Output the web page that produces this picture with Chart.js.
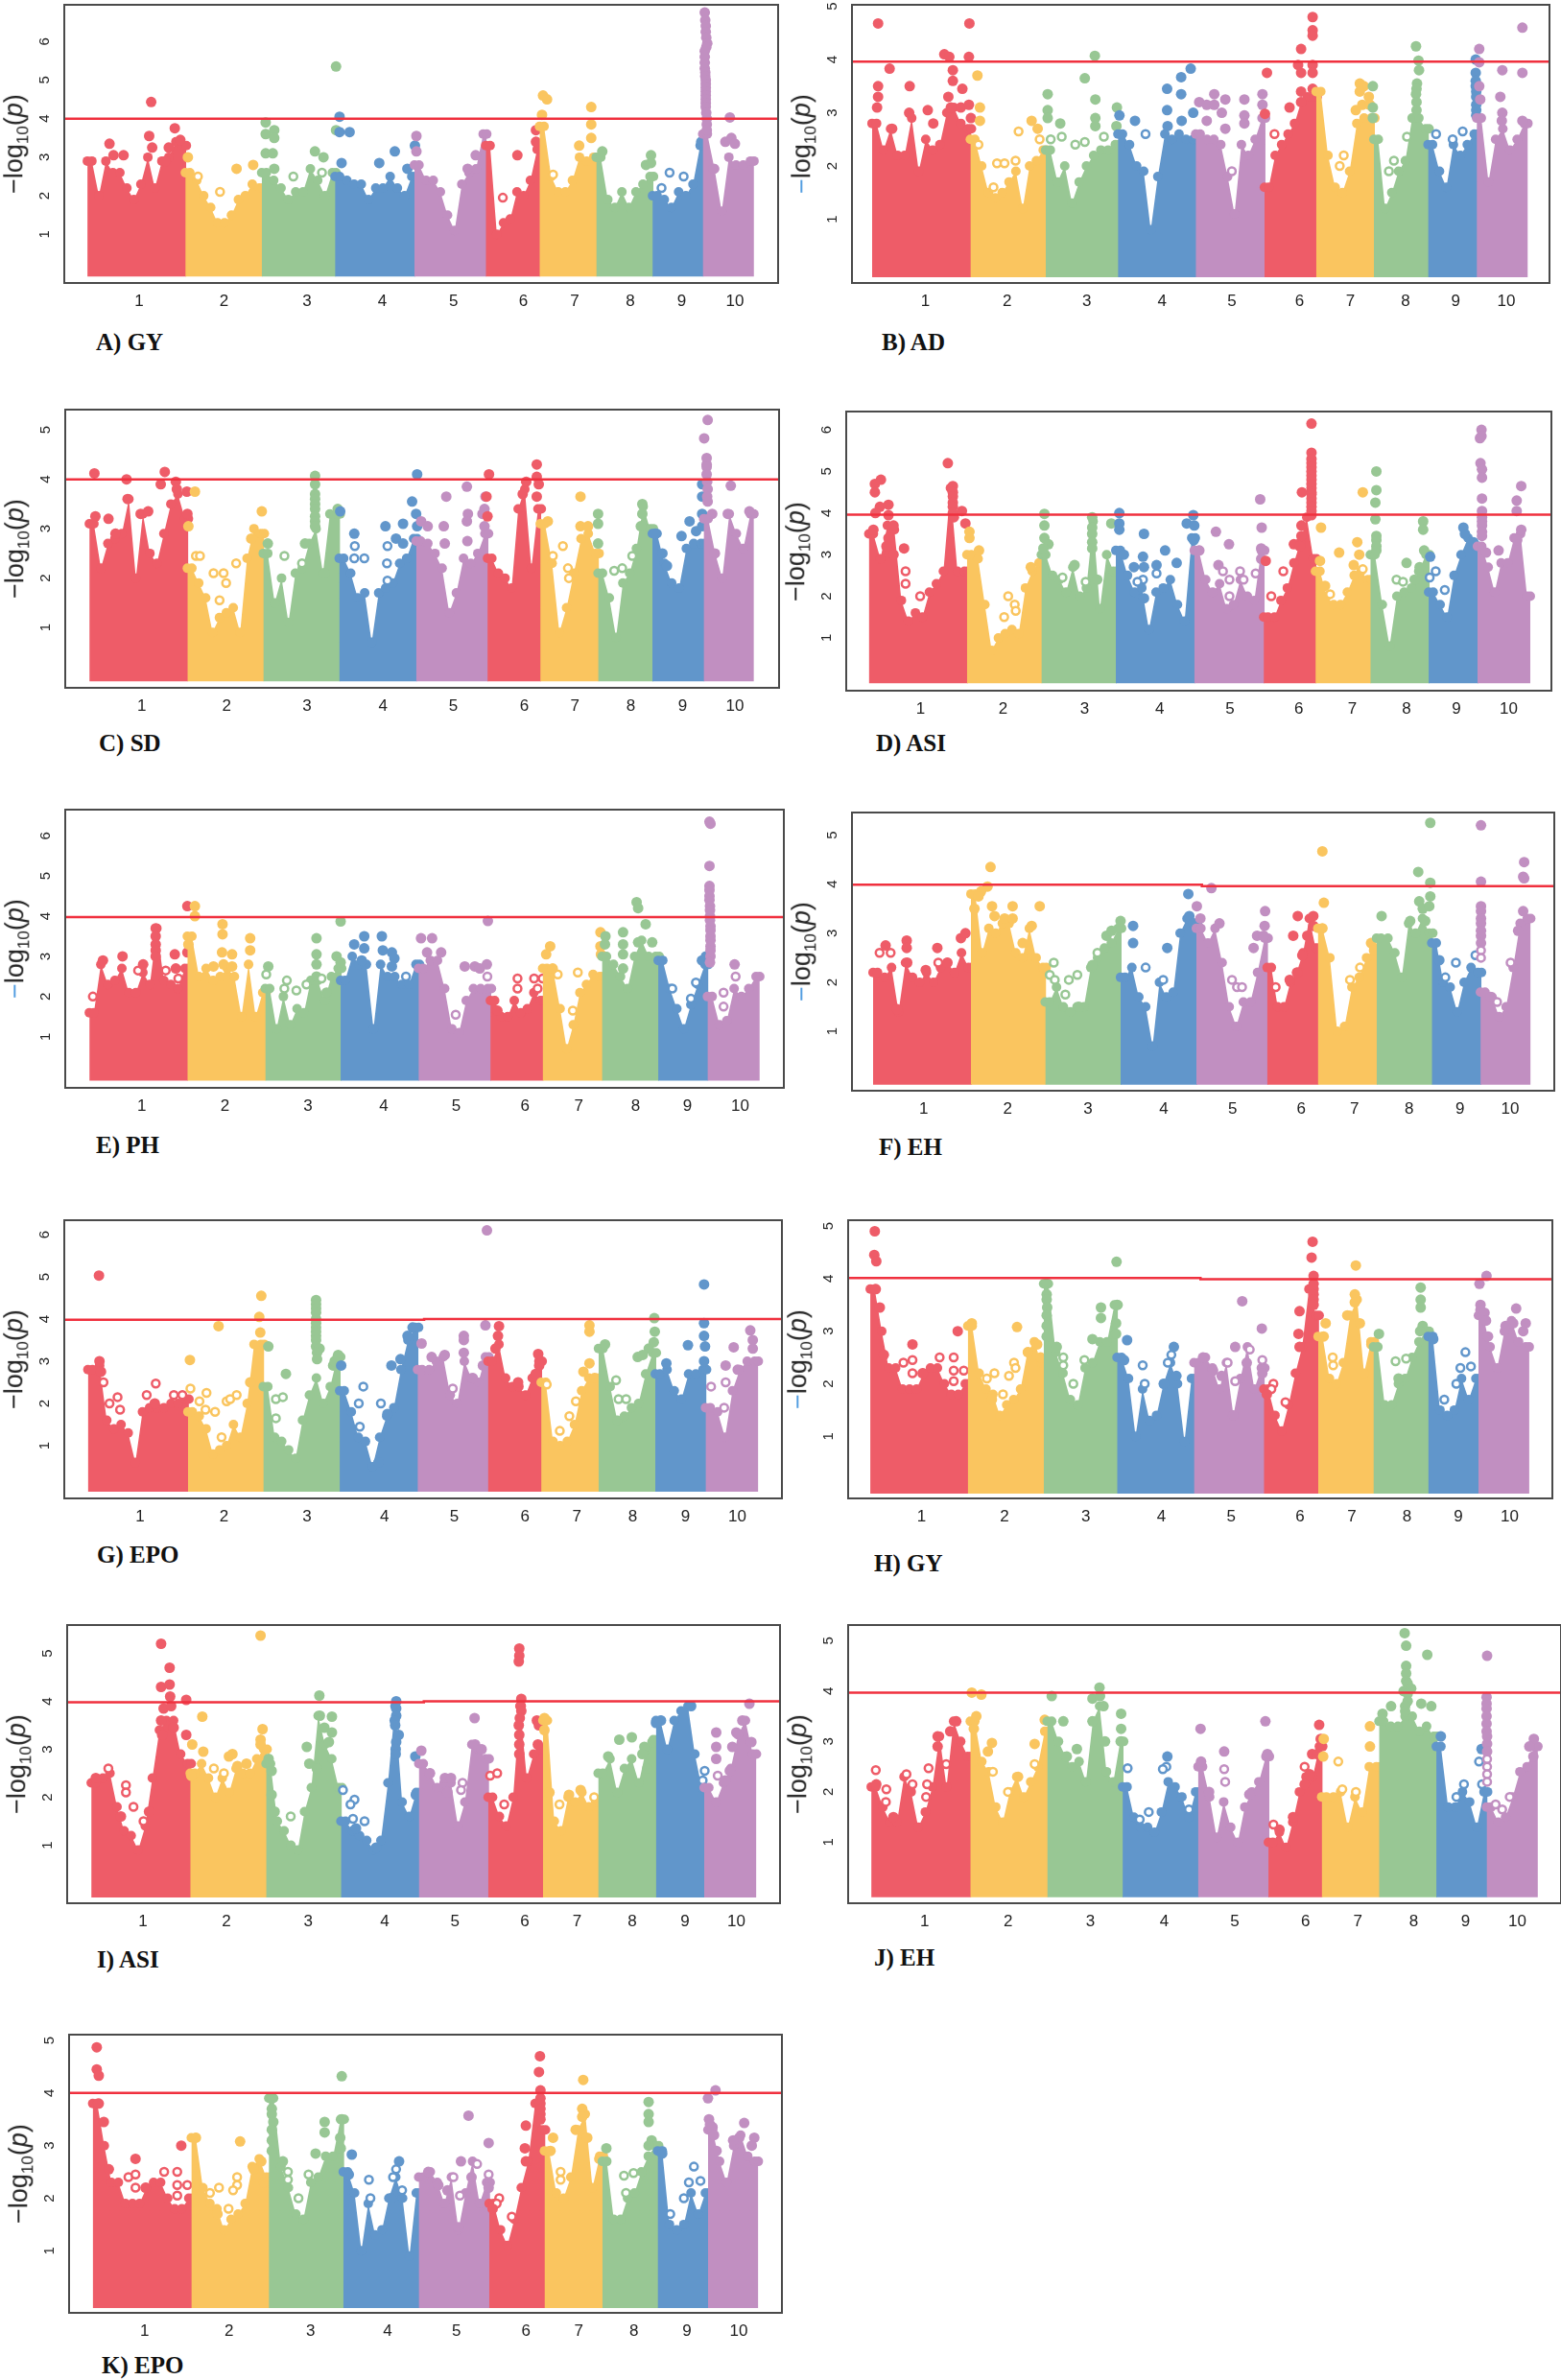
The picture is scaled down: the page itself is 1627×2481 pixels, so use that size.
<!DOCTYPE html>
<html>
<head>
<meta charset="utf-8">
<title>Manhattan plots</title>
<script src="https://cdn.jsdelivr.net/npm/chart.js@4/dist/chart.umd.min.js"></script>
<style>
html, body { margin: 0; padding: 0; background: #fff; }
body { position: relative; width: 1627px; height: 2481px; overflow: hidden; }
canvas { position: absolute; }
.ytitle { position: absolute; transform: translate(-50%, -50%) rotate(-90deg); font: 27px "Liberation Sans", Arial, sans-serif; color: #222; white-space: nowrap; }
.ytitle sub { font-size: 17px; }
.plabel { position: absolute; transform: translateY(-50%); font: bold 25px "Liberation Serif", serif; color: #111; white-space: nowrap; }
</style>
</head>
<body>
<script>
const chrLabels = ['1', '2', '3', '4', '5', '6', '7', '8', '9', '10'];
const chrColors = ['#EE5C68', '#FAC55F', '#98C794', '#6196CB', '#C18FC1', '#EE5C68', '#FAC55F', '#98C794', '#6196CB', '#C18FC1'];

// A) GY
const A_ends = [175, 370, 522, 668, 826, 968, 1075, 1188, 1300, 1400, 1500];
const A_ticks = [276, 445, 610, 760, 902, 1041, 1143, 1254, 1356, 1462];
const A_line = [[127, 4.0], [1548, 4.0]];
const A_tops = [
  [2.9, 2.0, 2.9, 2.6, 2.6, 2.2, 1.9, 2.3, 3.0, 2.2, 2.9, 3.0, 3.4, 3.3],
  [2.6, 2.4, 2.0, 1.7, 1.3, 1.3, 1.5, 1.9, 2.0, 2.3, 2.2],
  [2.6, 2.4, 2.2, 1.9, 2.1, 2.1, 2.7, 2.4, 2.0, 2.6],
  [2.5, 2.4, 2.3, 2.3, 1.9, 2.2, 2.2, 2.5, 2.2, 2.0, 2.5],
  [2.8, 2.4, 2.4, 2.1, 1.5, 1.1, 2.3, 2.6, 2.7, 3.6],
  [3.3, 1.0, 1.3, 1.4, 2.1, 2.0, 2.4, 3.2],
  [3.8, 2.5, 2.1, 2.1, 2.4, 3.0, 2.9, 3.0],
  [3.0, 1.9, 1.7, 2.1, 1.7, 2.1, 2.3, 2.5],
  [2.0, 1.9, 1.7, 2.1, 2.0, 2.3, 3.3],
  [3.6, 2.7, 1.6, 3.0, 2.8, 2.8, 2.9]
];
const A_hits = [
  [[300, 4.43], [296, 3.55], [217, 3.35], [245, 3.05], [225, 3.05], [347, 3.75], [335, 3.25], [358, 3.45], [302, 3.25], [328, 2.9]],
  [[373, 3.0], [393, 2.5], [470, 2.7], [503, 2.8], [437, 2.1]],
  [[528, 3.9], [528, 3.6], [545, 3.7], [545, 3.5], [528, 3.1], [542, 3.1], [545, 2.7], [583, 2.5], [626, 3.15], [643, 3.0], [640, 2.6], [668, 5.35], [668, 3.7]],
  [[675, 4.05], [675, 3.65], [695, 3.65], [679, 2.85], [754, 2.85], [785, 3.15], [810, 2.7], [825, 3.3]],
  [[828, 3.55], [828, 3.15], [946, 3.05], [930, 2.7]],
  [[1029, 3.05], [1000, 1.95], [1066, 3.7], [1066, 3.4]],
  [[1080, 4.6], [1088, 4.5], [1078, 4.1], [1176, 4.3], [1176, 3.85], [1176, 3.5], [1152, 3.3], [1100, 2.55]],
  [[1198, 3.15], [1285, 2.8], [1295, 3.05], [1295, 2.85]],
  [[1332, 2.6], [1360, 2.5], [1316, 2.2], [1395, 3.4]],
  [[1402, 6.75], [1403, 6.55], [1404, 6.4], [1404, 6.25], [1405, 6.1], [1407, 5.95], [1405, 5.85], [1402, 5.75], [1402, 5.6], [1402, 5.45], [1402, 5.3], [1403, 5.2], [1403, 5.1], [1404, 5.0], [1404, 4.9], [1404, 4.8], [1404, 4.7], [1404, 4.6], [1404, 4.5], [1404, 4.4], [1404, 4.3], [1405, 4.15], [1406, 4.0], [1406, 3.85], [1406, 3.7], [1443, 3.4], [1455, 3.5], [1462, 3.35], [1452, 4.03], [1420, 2.7]]
];

// B) AD
const B_ends = [190, 386, 536, 680, 835, 972, 1075, 1190, 1298, 1395, 1495];
const B_ticks = [294, 457, 616, 766, 905, 1040, 1141, 1251, 1351, 1452];
const B_line = [[148, 3.96], [1538, 3.96]];
const B_tops = [
  [2.8, 2.3, 2.7, 2.2, 2.2, 2.9, 1.9, 2.5, 2.3, 2.4, 3.0, 3.1, 2.8, 2.7],
  [2.5, 2.0, 1.5, 1.4, 1.5, 1.7, 1.9, 1.2, 2.0, 2.1, 2.3],
  [2.3, 1.7, 2.0, 1.3, 1.7, 2.0, 2.2, 2.3, 2.3, 2.4],
  [2.6, 2.4, 2.0, 1.9, 0.8, 1.8, 2.6, 2.5, 2.6, 2.5, 2.5],
  [2.6, 2.5, 2.5, 2.4, 1.8, 1.1, 2.4, 2.2, 2.5, 2.9],
  [1.6, 2.2, 2.4, 2.6, 2.8, 3.2, 3.3, 3.3],
  [3.4, 2.2, 1.6, 1.5, 1.9, 2.8, 2.9, 2.9],
  [2.5, 1.2, 1.5, 1.9, 2.1, 2.9, 2.9, 2.7],
  [2.4, 1.9, 1.6, 2.4, 2.2, 2.4, 2.6],
  [2.9, 1.7, 2.5, 2.7, 2.3, 2.5, 2.8]
];
const B_hits = [
  [[200, 4.68], [223, 3.83], [200, 3.5], [200, 3.3], [198, 3.1], [263, 3.5], [262, 3.0], [299, 3.05], [310, 2.8], [332, 4.1], [342, 4.05], [349, 3.8], [349, 3.6], [340, 3.3], [368, 3.45], [365, 3.1], [345, 3.1], [381, 4.05], [382, 4.68], [381, 3.15], [385, 2.9], [228, 2.7]],
  [[398, 3.7], [403, 3.1], [403, 2.85], [400, 2.4], [480, 2.65], [506, 2.85], [518, 2.7], [522, 2.5], [437, 2.05], [452, 2.05], [474, 2.1], [430, 1.6]],
  [[538, 3.35], [538, 3.05], [538, 2.9], [563, 2.8], [566, 2.55], [544, 2.5], [632, 4.07], [612, 3.65], [633, 3.25], [633, 2.9], [633, 2.75], [676, 3.1], [675, 2.75], [593, 2.4], [612, 2.45], [650, 2.55]],
  [[681, 2.95], [712, 2.85], [733, 2.6], [776, 3.45], [776, 3.05], [804, 3.67], [804, 3.35], [823, 3.83], [805, 2.85], [828, 3.0], [777, 2.75]],
  [[840, 3.2], [855, 3.15], [870, 3.35], [870, 3.15], [892, 3.25], [885, 3.0], [855, 2.85], [892, 2.7], [930, 3.25], [930, 2.95], [930, 2.8], [966, 3.35], [966, 3.15], [905, 1.9]],
  [[975, 3.75], [971, 2.98], [1043, 4.2], [1066, 4.8], [1066, 4.55], [1066, 4.45], [1066, 3.9], [1066, 3.75], [1037, 3.9], [1043, 3.75], [1043, 3.4], [1043, 3.2], [1066, 3.45], [1020, 3.1], [990, 2.6]],
  [[1160, 3.55], [1168, 3.5], [1160, 3.4], [1178, 3.3], [1165, 3.15], [1152, 3.05], [1180, 3.15], [1128, 2.2], [1120, 2.0]],
  [[1186, 3.5], [1186, 3.1], [1186, 2.9], [1272, 4.25], [1277, 3.98], [1278, 3.8], [1274, 3.55], [1273, 3.45], [1272, 3.35], [1273, 3.2], [1273, 3.05], [1228, 2.1], [1218, 1.9], [1254, 2.55]],
  [[1312, 2.6], [1365, 2.65], [1345, 2.5], [1391, 4.0], [1391, 3.75], [1391, 3.6], [1391, 3.5], [1392, 3.4], [1392, 3.3], [1392, 3.15], [1392, 3.05], [1392, 2.95]],
  [[1398, 4.2], [1398, 3.95], [1398, 3.5], [1400, 3.25], [1484, 4.6], [1484, 3.75], [1444, 3.8], [1440, 3.3], [1444, 3.0], [1443, 2.85], [1484, 2.85]]
];

// C) SD
const C_ends = [180, 375, 526, 677, 830, 972, 1077, 1192, 1300, 1402, 1500];
const C_ticks = [282, 451, 611, 762, 902, 1043, 1144, 1255, 1358, 1462];
const C_line = [[130, 4.0], [1550, 4.0]];
const C_tops = [
  [3.1, 2.2, 2.7, 2.8, 2.9, 3.6, 2.0, 3.3, 2.5, 2.3, 2.9, 3.5, 3.7, 3.2],
  [2.2, 1.9, 1.6, 0.9, 1.2, 1.3, 1.4, 0.9, 2.4, 3.0, 2.9],
  [2.5, 1.5, 2.0, 1.1, 2.1, 2.2, 2.7, 3.0, 2.1, 3.3, 3.3],
  [2.4, 2.1, 1.6, 1.7, 0.7, 1.7, 1.8, 1.9, 2.3, 2.4, 2.8],
  [2.75, 2.7, 2.5, 2.2, 1.3, 1.7, 2.4, 2.3, 2.5, 2.9],
  [2.4, 2.1, 2.0, 1.8, 3.4, 3.8, 2.2, 3.4],
  [3.1, 2.3, 0.9, 1.4, 2.1, 2.8, 2.9, 2.5],
  [2.1, 1.6, 0.8, 1.9, 2.1, 2.6, 3.45, 3.0],
  [2.9, 2.3, 1.9, 1.8, 2.6, 2.7, 2.7],
  [3.2, 2.5, 2.0, 3.3, 2.9, 2.6, 3.3]
];
const C_hits = [
  [[188, 4.12], [190, 3.25], [216, 3.2], [252, 4.0], [254, 3.6], [280, 3.3], [295, 3.35], [328, 4.15], [320, 3.9], [350, 3.95], [352, 3.8], [372, 3.75], [373, 3.3], [230, 2.9]],
  [[388, 3.75], [375, 3.05], [390, 2.45], [398, 2.45], [425, 2.1], [445, 2.1], [450, 1.9], [470, 2.3], [521, 3.35], [500, 2.8], [437, 1.55]],
  [[627, 4.07], [627, 3.9], [627, 3.7], [627, 3.6], [627, 3.5], [627, 3.4], [627, 3.25], [627, 3.15], [627, 3.05], [566, 2.45], [607, 2.7], [601, 2.3], [533, 2.7], [672, 3.4], [646, 2.1]],
  [[677, 3.35], [705, 2.9], [706, 2.65], [705, 2.4], [725, 2.4], [767, 3.05], [771, 2.65], [770, 2.3], [771, 1.95], [802, 3.1], [788, 2.8], [802, 2.7], [820, 3.55], [828, 3.3], [830, 3.05], [830, 4.1]],
  [[838, 3.15], [851, 3.05], [883, 3.05], [885, 2.7], [888, 3.65], [929, 3.85], [931, 3.3], [929, 3.15], [930, 2.75], [966, 3.65], [964, 3.4], [964, 3.05], [960, 3.3]],
  [[973, 4.1], [968, 3.65], [970, 3.25], [1068, 4.3], [1068, 4.05], [1072, 3.9], [1068, 3.65], [1047, 3.95], [1040, 3.7]],
  [[1155, 3.65], [1155, 3.05], [1170, 3.05], [1120, 2.65], [1130, 2.2], [1132, 2.0], [1090, 3.15], [1100, 2.45]],
  [[1190, 3.3], [1190, 3.1], [1190, 2.7], [1278, 3.5], [1278, 3.3], [1258, 2.45], [1222, 2.15], [1238, 2.2], [1275, 3.05]],
  [[1304, 2.9], [1372, 3.15], [1356, 2.85], [1385, 2.95], [1397, 3.9], [1397, 3.65], [1397, 3.3], [1397, 3.05], [1318, 2.5], [1327, 2.25]],
  [[1408, 5.2], [1401, 4.83], [1406, 4.43], [1406, 4.3], [1406, 4.25], [1406, 4.1], [1407, 3.95], [1408, 3.8], [1407, 3.65], [1408, 3.55], [1417, 3.3], [1454, 3.87], [1448, 3.3], [1491, 3.35], [1422, 2.5]]
];

// D) ASI
const D_ends = [185, 380, 528, 676, 832, 970, 1073, 1182, 1298, 1395, 1498];
const D_ticks = [286, 450, 612, 761, 901, 1038, 1144, 1252, 1351, 1455];
const D_line = [[138, 3.96], [1540, 3.96]];
const D_tops = [
  [3.5, 2.9, 3.7, 3.6, 1.9, 1.4, 1.6, 1.5, 2.1, 2.3, 2.6, 4.6, 2.6, 2.6],
  [3.0, 2.9, 1.8, 0.7, 1.0, 1.1, 1.2, 1.1, 2.2, 2.6, 2.8],
  [3.0, 2.5, 2.4, 2.1, 2.7, 2.0, 2.2, 3.8, 1.7, 3.0, 2.6],
  [3.1, 2.5, 2.1, 2.2, 1.2, 2.1, 2.2, 2.4, 1.8, 1.4, 3.4],
  [3.1, 2.4, 2.1, 2.3, 1.7, 1.8, 2.4, 2.0, 1.9, 3.1],
  [1.5, 1.5, 1.9, 2.2, 2.8, 3.3, 3.9, 2.9],
  [2.6, 2.0, 1.8, 1.8, 2.1, 2.5, 2.6, 2.4],
  [3.0, 1.8, 0.8, 2.0, 2.1, 2.2, 2.6, 3.0],
  [2.1, 1.8, 1.5, 2.5, 3.0, 3.4, 3.2],
  [3.2, 2.7, 2.1, 2.8, 2.8, 3.4, 3.5, 2.0]
];
const D_hits = [
  [[195, 4.7], [207, 4.8], [195, 4.5], [205, 4.15], [222, 4.2], [196, 4.0], [222, 3.95], [232, 3.7], [222, 3.4], [192, 3.6], [232, 3.0], [253, 3.15], [256, 2.6], [256, 2.3], [285, 2.0], [340, 5.2], [350, 4.65], [350, 4.5], [350, 4.4], [350, 4.25], [350, 4.15], [350, 4.0], [368, 4.05], [375, 3.75], [352, 3.9], [345, 3.0], [218, 3.2]],
  [[383, 3.55], [383, 3.4], [402, 3.1], [460, 2.0], [473, 1.8], [475, 1.65], [452, 1.5], [505, 2.7]],
  [[532, 3.98], [532, 3.7], [532, 3.4], [540, 3.25], [530, 3.15], [568, 2.45], [592, 2.75], [627, 3.9], [627, 3.65], [627, 3.5], [627, 3.3], [627, 3.15], [665, 3.75], [614, 2.35], [637, 2.4]],
  [[681, 4.0], [681, 3.75], [681, 3.6], [690, 3.0], [730, 3.5], [728, 2.95], [730, 2.7], [728, 2.4], [772, 3.1], [755, 2.75], [755, 2.55], [795, 2.8], [710, 2.7], [717, 2.35], [730, 1.95], [815, 3.75], [828, 3.95], [830, 3.7], [829, 3.35]],
  [[961, 4.33], [873, 3.55], [899, 3.25], [964, 3.65], [963, 3.15], [963, 2.9], [878, 2.75], [887, 2.6], [900, 2.4], [921, 2.6], [928, 2.4], [952, 2.55], [900, 2.0], [840, 3.1]],
  [[1063, 6.15], [1063, 5.45], [1063, 5.3], [1063, 5.2], [1063, 5.1], [1063, 5.0], [1063, 4.9], [1063, 4.8], [1063, 4.7], [1063, 4.6], [1063, 4.5], [1063, 4.45], [1063, 4.35], [1063, 4.25], [1063, 4.15], [1063, 4.05], [1063, 3.95], [1044, 4.5], [1043, 3.7], [1043, 3.45], [1028, 3.25], [1040, 3.2], [1007, 2.6], [972, 2.85], [983, 2.0]],
  [[1082, 3.65], [1080, 2.85], [1118, 3.05], [1165, 4.5], [1154, 3.3], [1158, 3.0], [1147, 2.75], [1165, 2.65], [1090, 2.25], [1100, 2.05]],
  [[1192, 5.0], [1192, 4.55], [1190, 4.25], [1190, 3.85], [1192, 3.45], [1192, 3.35], [1192, 3.2], [1192, 3.1], [1285, 3.8], [1285, 3.6], [1287, 3.1], [1252, 2.8], [1232, 2.4], [1245, 2.35], [1268, 2.4], [1278, 2.7]],
  [[1299, 2.95], [1310, 2.6], [1298, 2.45], [1328, 2.15], [1365, 3.65], [1368, 3.5], [1385, 3.3]],
  [[1401, 6.0], [1401, 5.85], [1398, 5.8], [1399, 5.2], [1402, 5.05], [1402, 4.85], [1402, 4.35], [1402, 4.05], [1402, 3.9], [1402, 3.8], [1402, 3.7], [1402, 3.55], [1402, 3.45], [1435, 3.1], [1480, 4.65], [1471, 4.3], [1471, 4.05], [1480, 3.6], [1472, 3.35], [1410, 3.05]]
];

// E) PH
const E_ends = [180, 375, 530, 680, 835, 978, 1082, 1200, 1312, 1410, 1512];
const E_ticks = [282, 448, 613, 764, 908, 1045, 1152, 1265, 1368, 1473];
const E_line = [[130, 3.98], [1560, 3.98]];
const E_tops = [
  [1.6, 2.8, 2.3, 2.4, 2.7, 2.1, 2.1, 2.6, 2.3, 3.7, 2.4, 2.3, 2.2, 2.7],
  [3.5, 2.5, 2.7, 2.4, 2.5, 2.7, 2.5, 1.5, 2.8, 1.5, 2.1],
  [2.2, 1.2, 2.0, 1.3, 1.7, 1.6, 2.4, 2.4, 1.9, 2.5, 2.7],
  [2.4, 3.0, 2.8, 2.8, 1.2, 2.8, 2.5, 2.5, 2.3, 2.3, 2.8],
  [2.7, 2.9, 2.9, 2.2, 1.2, 1.1, 1.9, 2.2, 2.2, 2.2],
  [1.9, 1.5, 1.5, 1.9, 1.6, 1.7, 2.1, 1.9],
  [2.7, 2.6, 1.7, 0.7, 1.3, 2.1, 2.3, 2.55, 2.5],
  [3.0, 2.8, 2.5, 2.2, 3.0, 3.4, 3.0, 3.0],
  [2.9, 2.2, 1.7, 1.2, 1.8, 2.3, 2.8],
  [2.0, 1.3, 1.4, 2.2, 2.0, 2.2, 2.5]
];
const E_hits = [
  [[373, 4.25], [205, 2.9], [244, 3.0], [185, 2.0], [275, 2.65], [285, 2.8], [348, 3.05], [350, 2.7], [330, 2.65], [355, 2.45], [310, 3.7], [310, 3.5], [310, 3.3], [310, 3.15], [310, 3.0], [373, 3.1]],
  [[388, 4.25], [388, 4.0], [443, 3.8], [443, 3.55], [442, 3.1], [462, 3.05], [498, 3.45], [498, 3.15], [375, 3.3], [445, 2.8], [462, 2.75], [425, 2.75]],
  [[534, 2.75], [530, 2.55], [571, 2.4], [566, 2.2], [590, 2.15], [610, 2.3], [630, 3.45], [630, 3.05], [630, 2.8], [630, 2.5], [640, 2.45], [670, 3.0], [678, 3.87], [678, 2.85], [650, 2.1]],
  [[705, 3.3], [725, 3.5], [725, 3.2], [760, 3.5], [762, 3.15], [780, 3.1], [785, 2.95], [780, 2.75], [720, 2.9], [808, 2.5]],
  [[838, 3.45], [860, 3.45], [850, 3.1], [878, 3.1], [925, 2.75], [945, 2.75], [955, 2.7], [969, 2.8], [970, 2.5], [971, 3.88], [907, 1.55]],
  [[1030, 2.45], [1030, 2.2], [1063, 2.45], [1070, 2.2], [1080, 2.45], [990, 1.65]],
  [[1095, 3.25], [1087, 3.05], [1110, 2.55], [1150, 2.6], [1140, 1.65], [1195, 3.6], [1195, 3.25], [1196, 3.05], [1100, 2.7]],
  [[1205, 3.5], [1204, 3.3], [1240, 3.6], [1240, 3.3], [1240, 3.05], [1267, 4.35], [1270, 4.2], [1285, 3.8], [1270, 3.35], [1298, 3.35], [1240, 2.7]],
  [[1397, 2.9], [1405, 3.0], [1338, 2.2], [1385, 2.35], [1375, 1.95]],
  [[1412, 6.35], [1414, 6.3], [1412, 5.25], [1412, 4.75], [1412, 4.65], [1412, 4.5], [1412, 4.4], [1413, 4.25], [1413, 4.15], [1413, 4.0], [1413, 3.9], [1414, 3.75], [1414, 3.65], [1414, 3.5], [1414, 3.4], [1414, 3.25], [1414, 3.15], [1414, 3.0], [1413, 2.85], [1462, 2.8], [1440, 2.1], [1440, 1.75], [1464, 2.5]]
];

// F) EH
const F_ends = [192, 387, 535, 685, 836, 977, 1078, 1195, 1305, 1402, 1500];
const F_ticks = [291, 458, 618, 769, 906, 1043, 1149, 1258, 1359, 1459];
const F_line = [[148, 3.99], [845, 3.99], [845, 3.96], [1547, 3.96]];
const F_tops = [
  [2.2, 2.1, 2.3, 1.4, 2.4, 2.1, 2.0, 2.2, 2.0, 2.3, 2.4, 2.2, 2.6, 2.3],
  [3.8, 2.6, 3.1, 3.0, 3.2, 3.2, 2.6, 2.5, 3.1, 2.5, 2.3],
  [1.6, 1.9, 1.5, 1.4, 1.5, 1.5, 2.3, 2.5, 2.7, 2.8, 3.1],
  [2.1, 2.3, 1.7, 1.5, 0.7, 2.0, 1.7, 1.8, 3.0, 3.3, 3.2],
  [3.1, 2.8, 3.1, 2.4, 1.5, 1.1, 1.6, 1.6, 2.2, 2.9],
  [2.3, 1.5, 1.5, 2.0, 2.2, 2.6, 3.3, 2.7],
  [3.1, 2.5, 1.0, 1.1, 1.9, 2.1, 2.5, 2.7],
  [2.9, 2.9, 2.6, 2.1, 3.2, 3.0, 3.3, 3.0],
  [2.8, 2.0, 1.9, 1.4, 2.0, 2.3, 2.2],
  [1.8, 1.7, 1.3, 1.5, 2.3, 3.2, 3.3]
];
const F_hits = [
  [[203, 2.6], [215, 2.75], [225, 2.6], [257, 2.85], [257, 2.7], [258, 2.4], [318, 2.7], [295, 2.25], [320, 2.4], [338, 2.4], [365, 2.9], [374, 3.0], [238, 1.45]],
  [[424, 4.35], [418, 3.95], [405, 3.85], [400, 3.75], [392, 3.5], [427, 3.55], [468, 3.55], [522, 3.55], [432, 3.35], [452, 3.3], [468, 3.3], [506, 3.15], [488, 2.8]],
  [[550, 2.4], [542, 2.15], [552, 2.05], [580, 2.05], [597, 2.15], [573, 1.75], [600, 1.5], [655, 2.95], [665, 3.05], [683, 3.25], [637, 2.6], [627, 2.35]],
  [[708, 3.15], [708, 2.8], [733, 2.3], [776, 2.7], [768, 2.05], [818, 3.8], [820, 3.35], [828, 3.2]],
  [[835, 3.55], [842, 3.3], [864, 3.92], [880, 3.2], [905, 2.05], [915, 1.9], [925, 1.9], [948, 2.7], [955, 2.95], [971, 3.45], [970, 3.15], [968, 2.95]],
  [[1036, 3.35], [1027, 2.95], [1055, 2.95], [1067, 3.35], [1067, 3.15], [1045, 2.55], [1035, 2.2], [1020, 2.05], [992, 1.9]],
  [[1085, 4.67], [1088, 3.62], [1085, 3.1], [1182, 2.8], [1188, 2.65], [1160, 2.3], [1140, 2.05]],
  [[1300, 5.25], [1276, 4.25], [1300, 4.03], [1300, 3.75], [1278, 3.65], [1285, 3.5], [1298, 3.55], [1203, 3.35], [1260, 3.25], [1290, 3.25]],
  [[1351, 2.4], [1390, 2.55], [1318, 2.45], [1330, 2.1]],
  [[1401, 5.2], [1401, 4.05], [1401, 3.55], [1401, 3.45], [1401, 3.3], [1401, 3.2], [1401, 3.05], [1401, 2.95], [1401, 2.8], [1401, 2.65], [1401, 2.5], [1487, 4.45], [1485, 4.15], [1487, 4.12], [1485, 3.45], [1475, 3.05], [1460, 2.4], [1433, 1.6], [1420, 1.7]]
];

// G) EPO
const G_ends = [176, 375, 525, 677, 832, 972, 1078, 1192, 1305, 1405, 1508];
const G_ticks = [278, 445, 610, 764, 903, 1044, 1147, 1258, 1363, 1466];
const G_line = [[127, 3.98], [843, 3.98], [843, 4.0], [1555, 4.0]];
const G_tops = [
  [2.8, 2.9, 1.6, 1.4, 1.5, 1.3, 0.6, 1.8, 1.9, 1.9, 1.9, 2.0, 2.0, 2.1],
  [1.8, 1.7, 1.4, 0.8, 0.9, 1.0, 1.5, 1.2, 2.0, 3.4, 3.4],
  [2.4, 1.2, 1.1, 0.9, 0.7, 1.6, 2.2, 2.6, 2.0, 2.4, 3.1],
  [2.3, 1.8, 1.2, 1.1, 0.5, 1.2, 1.7, 1.9, 2.8, 3.5, 3.8],
  [2.8, 2.8, 3.0, 3.1, 2.2, 2.0, 3.0, 2.6, 2.5, 3.1],
  [3.0, 3.4, 2.6, 2.4, 2.4, 2.2, 2.6, 3.0],
  [2.5, 1.1, 1.0, 1.1, 1.5, 2.3, 2.6, 2.6],
  [3.3, 2.4, 1.6, 1.7, 1.9, 2.0, 2.7, 3.2],
  [2.7, 2.8, 2.3, 2.1, 2.7, 2.7, 2.8],
  [1.9, 1.8, 1.2, 2.3, 2.8, 3.0, 3.0]
];
const G_hits = [
  [[196, 5.03], [197, 3.0], [200, 2.75], [205, 2.5], [217, 2.0], [233, 2.15], [238, 1.85], [291, 2.2], [309, 2.47], [345, 2.2], [362, 2.2], [307, 2.0]],
  [[519, 4.55], [515, 4.05], [517, 3.68], [434, 3.83], [377, 3.03], [378, 2.35], [396, 2.05], [410, 2.25], [408, 1.85], [427, 1.8], [450, 2.05], [457, 2.1], [470, 2.2], [497, 2.5], [440, 1.2]],
  [[628, 4.45], [628, 4.35], [628, 4.25], [628, 4.15], [628, 4.0], [628, 3.9], [628, 3.8], [628, 3.7], [628, 3.6], [628, 3.5], [628, 3.35], [635, 3.3], [630, 3.2], [630, 3.05], [533, 3.35], [568, 2.7], [548, 2.1], [562, 2.15], [548, 1.65], [662, 2.9], [672, 3.15], [665, 3.0]],
  [[678, 2.9], [722, 2.4], [713, 2.0], [757, 2.0], [770, 1.75], [778, 2.9], [796, 3.05], [820, 3.8], [810, 3.6], [715, 1.45], [752, 0.6]],
  [[838, 3.42], [968, 6.1], [965, 3.85], [922, 3.6], [922, 3.5], [922, 3.2], [858, 3.1], [884, 3.15], [900, 2.35], [940, 2.6], [960, 2.9]],
  [[992, 3.83], [990, 3.6], [985, 3.3], [1070, 3.17], [1072, 2.9], [1065, 2.7], [1030, 2.5]],
  [[1172, 3.85], [1172, 3.7], [1172, 2.95], [1160, 2.75], [1132, 1.7], [1113, 1.35], [1145, 2.05], [1087, 2.45], [1182, 2.6]],
  [[1301, 4.02], [1302, 3.7], [1300, 3.45], [1203, 3.4], [1290, 3.3], [1268, 3.1], [1278, 3.15], [1225, 2.55], [1230, 2.1], [1245, 2.1]],
  [[1400, 4.82], [1400, 3.9], [1400, 3.6], [1402, 3.35], [1368, 3.38], [1400, 3.0], [1325, 2.95]],
  [[1492, 3.73], [1497, 3.5], [1497, 3.3], [1459, 3.33], [1443, 2.9], [1443, 2.5], [1414, 2.4], [1467, 2.8], [1440, 1.9]]
];

// H) GY
const H_ends = [188, 382, 533, 679, 832, 971, 1079, 1189, 1298, 1398, 1497];
const H_ticks = [288, 453, 615, 765, 904, 1041, 1144, 1254, 1356, 1458];
const H_line = [[142, 4.01], [843, 4.01], [843, 3.99], [1543, 3.99]];
const H_tops = [
  [3.8, 3.0, 2.3, 2.3, 1.9, 1.9, 1.9, 2.2, 2.3, 2.3, 2.0, 1.8, 1.8, 2.0],
  [3.1, 2.2, 1.9, 1.8, 1.4, 1.6, 1.7, 1.9, 2.6, 2.8, 2.4],
  [3.9, 2.6, 2.2, 1.7, 1.6, 2.3, 2.4, 2.8, 2.8, 3.5],
  [2.5, 2.1, 1.0, 1.9, 1.3, 1.4, 2.0, 2.4, 2.0, 0.9, 2.1],
  [2.4, 2.5, 2.3, 1.9, 2.4, 1.4, 2.1, 2.7, 1.9, 2.3],
  [1.9, 1.4, 1.1, 1.6, 2.2, 2.7, 3.8, 3.3],
  [2.9, 2.1, 2.0, 2.4, 3.3, 3.6, 2.2, 2.8],
  [2.7, 1.6, 1.6, 2.0, 2.1, 2.5, 2.8, 3.0],
  [2.9, 1.5, 1.4, 1.5, 2.1, 1.7, 2.1],
  [3.3, 2.7, 2.3, 3.0, 3.2, 2.8, 2.7]
];
const H_hits = [
  [[195, 4.9], [194, 4.45], [198, 4.33], [197, 3.8], [205, 3.45], [213, 2.55], [252, 2.4], [270, 2.75], [270, 2.45], [270, 2.2], [290, 2.2], [324, 2.5], [352, 2.5], [352, 2.25], [360, 3.0], [372, 2.25], [352, 2.05]],
  [[388, 3.15], [478, 3.08], [472, 2.4], [475, 2.3], [433, 2.2], [418, 2.1], [462, 2.15], [450, 1.8], [428, 1.7], [500, 2.6], [518, 2.75], [525, 2.5]],
  [[536, 3.9], [537, 3.7], [537, 3.6], [538, 3.45], [537, 3.3], [537, 3.1], [537, 2.9], [557, 2.7], [570, 2.5], [570, 2.35], [590, 2.0], [645, 3.45], [645, 3.25], [628, 2.85], [677, 3.5], [675, 3.15], [675, 2.95], [612, 2.45], [676, 4.32]],
  [[697, 2.83], [691, 2.45], [728, 2.35], [732, 2.0], [790, 2.7], [785, 2.55], [778, 2.4], [795, 2.15], [770, 2.0]],
  [[848, 2.5], [868, 2.25], [885, 2.15], [897, 2.4], [912, 2.7], [926, 3.57], [941, 2.65], [935, 2.4], [965, 3.05], [966, 2.45], [966, 2.2], [912, 2.05], [908, 1.4]],
  [[1066, 4.7], [1064, 4.4], [1068, 4.05], [1068, 3.9], [1068, 3.8], [1068, 3.7], [1068, 3.6], [1068, 3.5], [1040, 3.38], [1038, 2.95], [1040, 2.7], [988, 2.0], [984, 1.9], [975, 1.8], [1012, 1.65]],
  [[1152, 4.25], [1150, 3.7], [1150, 3.55], [1092, 3.15], [1106, 2.5], [1107, 2.35], [1160, 3.15], [1135, 3.3], [1183, 2.75], [1088, 2.9]],
  [[1198, 2.95], [1281, 3.83], [1281, 3.6], [1281, 3.45], [1285, 3.1], [1280, 3.0], [1231, 2.43], [1252, 2.48], [1237, 2.1]],
  [[1306, 2.85], [1370, 2.6], [1360, 2.3], [1381, 2.33], [1352, 2.0], [1328, 1.7]],
  [[1412, 4.05], [1398, 3.9], [1400, 3.5], [1400, 3.4], [1408, 3.35], [1411, 3.2], [1415, 2.9], [1471, 3.43], [1490, 3.15], [1485, 3.0], [1465, 3.15], [1450, 3.1]]
];

// I) ASI
const I_ends = [183, 380, 531, 680, 835, 973, 1082, 1192, 1307, 1403, 1505];
const I_ticks = [284, 450, 613, 765, 905, 1044, 1148, 1258, 1363, 1465];
const I_line = [[133, 3.98], [843, 3.98], [843, 4.0], [1552, 4.0]];
const I_tops = [
  [2.3, 2.4, 2.5, 1.8, 1.3, 1.2, 0.9, 1.4, 2.4, 3.4, 3.6, 3.6, 2.9, 2.7],
  [2.5, 2.7, 2.4, 2.0, 2.4, 2.1, 2.6, 2.5, 2.5, 2.8, 3.0],
  [2.7, 1.5, 1.3, 1.0, 0.9, 1.7, 2.2, 3.7, 3.1, 2.8, 2.2],
  [1.5, 1.3, 1.2, 1.1, 0.9, 1.1, 2.3, 3.9, 1.9, 1.6, 2.1],
  [2.7, 2.5, 2.2, 2.3, 2.3, 1.4, 1.9, 3.1, 3.0, 2.8],
  [2.0, 1.6, 1.4, 2.0, 3.9, 2.4, 2.9, 3.0],
  [3.6, 1.5, 1.3, 2.0, 1.9, 2.1, 1.8, 1.9],
  [2.5, 2.8, 2.1, 2.6, 2.8, 2.3, 3.0, 3.2],
  [3.6, 3.0, 3.6, 3.8, 3.9, 2.9, 2.2],
  [2.2, 1.9, 2.3, 2.6, 3.3, 3.6, 2.9]
];
const I_hits = [
  [[320, 5.2], [337, 4.7], [320, 4.3], [337, 4.35], [338, 4.1], [370, 4.03], [325, 3.85], [340, 3.9], [320, 3.6], [345, 3.45], [322, 3.3], [370, 3.3], [215, 2.6], [190, 2.4], [250, 2.25], [250, 2.1], [265, 1.8], [240, 1.6], [285, 1.5], [296, 1.7]],
  [[518, 5.37], [402, 3.68], [522, 3.42], [518, 3.2], [518, 3.1], [404, 2.95], [455, 2.85], [462, 2.9], [425, 2.6], [490, 2.7], [382, 3.1], [380, 2.45], [472, 2.65], [445, 2.5]],
  [[635, 4.12], [636, 3.7], [660, 3.68], [645, 3.45], [660, 3.35], [654, 3.15], [610, 3.05], [615, 2.7], [630, 2.6], [578, 1.6], [540, 2.55], [540, 2.05], [546, 1.7], [534, 2.8]],
  [[682, 2.15], [705, 1.95], [697, 1.85], [702, 1.55], [725, 1.5], [708, 1.35], [748, 0.95], [788, 4.0], [788, 3.85], [788, 3.7], [785, 3.6], [786, 3.5], [793, 3.3], [788, 3.15], [787, 3.0], [787, 2.9], [826, 2.85], [827, 2.05]],
  [[838, 2.97], [944, 3.65], [945, 3.1], [958, 3.0], [885, 2.4], [897, 2.4], [920, 2.3], [855, 2.5], [917, 2.15], [890, 2.1]],
  [[1033, 5.1], [1033, 4.95], [1032, 4.83], [1037, 4.05], [1036, 3.9], [1037, 3.8], [1034, 3.65], [1032, 3.5], [1033, 3.3], [1033, 3.1], [1033, 2.9], [1068, 3.6], [1072, 3.5], [1070, 3.1], [975, 2.45], [989, 2.5], [1003, 1.85]],
  [[1083, 3.65], [1083, 3.4], [1113, 1.85], [1132, 2.05], [1155, 2.15], [1182, 2.0], [1093, 2.1]],
  [[1232, 3.2], [1257, 3.25], [1282, 3.05], [1298, 3.15], [1278, 2.9], [1210, 2.85], [1288, 2.6]],
  [[1315, 3.6], [1305, 3.55], [1375, 3.9], [1360, 3.75], [1398, 2.35], [1402, 2.55]],
  [[1491, 3.95], [1477, 3.6], [1465, 3.35], [1495, 3.15], [1425, 3.35], [1425, 3.05], [1425, 2.8], [1457, 3.05], [1428, 2.45], [1443, 2.35], [1452, 2.55]]
];

// J) EH
const J_ends = [190, 387, 540, 690, 840, 980, 1086, 1200, 1314, 1414, 1514];
const J_ticks = [294, 460, 624, 771, 911, 1052, 1156, 1267, 1370, 1473];
const J_line = [[142, 3.97], [1560, 3.97]];
const J_tops = [
  [2.1, 1.7, 1.4, 1.4, 2.3, 2.0, 1.3, 1.6, 2.1, 3.1, 2.1, 3.4, 3.0, 2.7],
  [3.4, 2.6, 2.4, 1.7, 1.4, 2.0, 2.3, 1.9, 2.2, 2.5, 3.2],
  [3.4, 3.0, 2.7, 2.5, 2.6, 2.2, 3.4, 3.7, 2.4, 2.2, 3.0],
  [2.1, 1.5, 1.3, 1.3, 1.2, 1.6, 2.2, 2.1, 1.9, 1.5, 2.0],
  [2.5, 1.9, 1.1, 1.8, 1.3, 1.0, 1.7, 2.0, 2.2, 2.7],
  [1.0, 1.2, 0.9, 1.4, 2.0, 2.3, 2.3, 2.9],
  [1.9, 1.9, 2.0, 1.3, 1.9, 1.6, 2.5, 2.5],
  [3.4, 3.3, 3.3, 3.5, 3.5, 3.2, 3.3, 3.1],
  [2.9, 1.7, 1.7, 2.0, 1.8, 1.3, 2.0],
  [1.7, 1.4, 1.5, 1.9, 2.4, 2.5, 2.9]
];
const J_hits = [
  [[197, 2.43], [198, 2.15], [218, 2.05], [217, 1.8], [232, 1.5], [258, 2.35], [270, 2.15], [299, 2.15], [297, 1.9], [302, 2.47], [320, 3.1], [320, 2.9], [337, 2.55], [357, 3.4], [345, 3.2]],
  [[388, 3.97], [407, 3.93], [397, 3.5], [392, 3.25], [428, 2.97], [420, 2.8], [430, 2.4], [533, 3.43], [513, 2.95], [513, 2.55], [480, 2.3], [460, 2.0]],
  [[642, 4.07], [628, 3.85], [643, 3.9], [650, 3.7], [547, 3.9], [570, 3.4], [628, 3.4], [685, 3.55], [685, 3.25], [685, 3.0], [597, 2.85], [577, 2.7], [653, 3.0]],
  [[698, 2.47], [777, 2.7], [775, 2.5], [768, 2.45], [740, 1.6], [722, 1.45], [820, 1.65]],
  [[843, 3.25], [844, 2.6], [972, 3.4], [890, 2.8], [890, 2.45], [892, 2.2], [976, 2.75], [860, 2.0], [940, 1.95]],
  [[1079, 3.33], [1082, 3.05], [1065, 2.75], [1075, 2.75], [1050, 2.5], [1060, 2.35], [1050, 2.15], [1000, 1.25], [988, 1.35], [1027, 1.5]],
  [[1088, 3.05], [1087, 2.7], [1117, 2.6], [1180, 3.3], [1180, 2.9], [1152, 2.0], [1125, 2.05]],
  [[1249, 5.15], [1252, 4.9], [1294, 4.72], [1252, 4.5], [1252, 4.35], [1252, 4.2], [1255, 4.15], [1262, 4.05], [1247, 4.0], [1255, 3.95], [1255, 3.8], [1282, 3.75], [1250, 3.7], [1302, 3.7], [1222, 3.7], [1205, 3.55], [1250, 3.6]],
  [[1321, 3.1], [1402, 2.85], [1397, 2.6], [1367, 2.15], [1352, 1.9], [1403, 2.15]],
  [[1413, 4.7], [1412, 3.88], [1412, 3.75], [1412, 3.65], [1412, 3.5], [1412, 3.35], [1412, 3.2], [1413, 3.1], [1413, 2.95], [1413, 2.8], [1413, 2.65], [1413, 2.5], [1413, 2.35], [1413, 2.2], [1506, 3.05], [1497, 2.9], [1505, 2.7], [1443, 1.65], [1458, 1.9], [1430, 1.75]]
];

// K) EPO
const K_ends = [187, 383, 537, 685, 835, 975, 1085, 1200, 1310, 1410, 1508];
const K_ticks = [288, 456, 618, 771, 908, 1046, 1151, 1261, 1366, 1469];
const K_line = [[138, 4.0], [1555, 4.0]];
const K_tops = [
  [3.8, 3.0, 2.3, 2.3, 1.9, 1.9, 1.9, 2.2, 2.3, 2.3, 2.0, 1.8, 1.8, 2.0],
  [3.15, 2.2, 1.9, 1.8, 1.4, 1.6, 1.7, 1.9, 2.6, 2.75, 2.4],
  [3.9, 2.6, 2.2, 1.7, 1.6, 2.3, 2.4, 2.8, 2.8, 3.5],
  [2.5, 2.1, 1.0, 1.9, 1.3, 1.4, 2.0, 2.4, 2.0, 0.9, 2.1],
  [2.4, 2.5, 2.3, 1.9, 2.4, 1.4, 2.1, 2.7, 1.9, 2.3],
  [1.9, 1.4, 1.1, 1.6, 2.2, 2.7, 3.8, 3.3],
  [2.9, 2.1, 2.0, 2.4, 3.3, 3.6, 2.2, 2.8],
  [2.7, 1.6, 1.6, 2.0, 2.1, 2.5, 2.8, 3.0],
  [2.9, 1.5, 1.4, 1.5, 2.1, 1.7, 2.1],
  [3.3, 2.7, 2.3, 3.0, 3.2, 2.8, 2.7]
];
const K_hits = [
  [[193, 4.87], [193, 4.45], [197, 4.33], [197, 3.8], [207, 3.45], [217, 2.55], [256, 2.4], [270, 2.75], [270, 2.45], [270, 2.2], [290, 2.2], [327, 2.5], [353, 2.5], [353, 2.25], [361, 3.0], [373, 2.25], [353, 2.05]],
  [[390, 3.15], [478, 3.08], [472, 2.4], [472, 2.25], [436, 2.2], [418, 2.1], [464, 2.15], [455, 1.8], [433, 1.7], [505, 2.55], [520, 2.7], [525, 2.3]],
  [[541, 3.9], [541, 3.7], [541, 3.6], [544, 3.45], [541, 3.3], [541, 3.1], [541, 2.9], [563, 2.7], [573, 2.5], [573, 2.35], [594, 2.0], [646, 3.45], [646, 3.25], [628, 2.85], [680, 3.5], [677, 3.15], [678, 2.95], [614, 2.45], [680, 4.32]],
  [[700, 2.83], [694, 2.45], [734, 2.35], [737, 2.0], [794, 2.7], [788, 2.55], [782, 2.4], [800, 2.15], [778, 2.0]],
  [[852, 2.5], [872, 2.25], [890, 2.15], [902, 2.4], [917, 2.7], [932, 3.57], [949, 2.65], [938, 2.4], [972, 3.05], [972, 2.45], [972, 2.2], [915, 2.05], [912, 1.45]],
  [[1074, 4.7], [1072, 4.4], [1075, 4.05], [1075, 3.9], [1075, 3.8], [1075, 3.7], [1075, 3.6], [1075, 3.5], [1046, 3.38], [1044, 2.95], [1046, 2.7], [993, 2.0], [988, 1.9], [980, 1.8], [1018, 1.65]],
  [[1160, 4.25], [1158, 3.7], [1158, 3.55], [1100, 3.15], [1115, 2.5], [1115, 2.35], [1168, 3.15], [1145, 3.3], [1192, 2.75], [1095, 2.9]],
  [[1206, 2.95], [1290, 3.83], [1290, 3.6], [1290, 3.45], [1296, 3.1], [1290, 3.0], [1241, 2.43], [1260, 2.48], [1245, 2.1]],
  [[1317, 2.85], [1380, 2.6], [1370, 2.3], [1393, 2.33], [1360, 2.0], [1333, 1.7]],
  [[1423, 4.05], [1408, 3.9], [1410, 3.5], [1412, 3.4], [1417, 3.35], [1420, 3.2], [1425, 2.9], [1480, 3.43], [1500, 3.15], [1495, 3.0], [1470, 3.15], [1458, 3.1]]
];

// box is the frame on the page, xr / yr the axis ranges inside it, lab the caption position
const panels = [
  { name: 'A) GY',  box: [67, 5, 811, 295],      xr: [127, 1548], yr: [-0.26, 6.95], lab: [100, 357],  dash: '#222', ends: A_ends, ticks: A_ticks, line: A_line, tops: A_tops, hits: A_hits },
  { name: 'B) AD',  box: [888, 5, 1615, 295],    xr: [148, 1538], yr: [-0.2, 5.03],  lab: [919, 357],  dash: '#4f9be0', ends: B_ends, ticks: B_ticks, line: B_line, tops: B_tops, hits: B_hits },
  { name: 'C) SD',  box: [68, 427, 812, 717],    xr: [130, 1550], yr: [-0.22, 5.41], lab: [103, 775],  dash: '#222', ends: C_ends, ticks: C_ticks, line: C_line, tops: C_tops, hits: C_hits },
  { name: 'D) ASI', box: [882, 429, 1617, 720],  xr: [138, 1540], yr: [-0.27, 6.44], lab: [913, 775],  dash: '#222', ends: D_ends, ticks: D_ticks, line: D_line, tops: D_tops, hits: D_hits },
  { name: 'E) PH',  box: [68, 844, 817, 1134],   xr: [130, 1560], yr: [-0.27, 6.65], lab: [100, 1194], dash: '#4f9be0', ends: E_ends, ticks: E_ticks, line: E_line, tops: E_tops, hits: E_hits },
  { name: 'F) EH',  box: [888, 847, 1620, 1137], xr: [148, 1547], yr: [-0.21, 5.46], lab: [916, 1196], dash: '#4f9be0', ends: F_ends, ticks: F_ticks, line: F_line, tops: F_tops, hits: F_hits },
  { name: 'G) EPO', box: [67, 1272, 815, 1562],  xr: [127, 1555], yr: [-0.25, 6.34], lab: [101, 1621], dash: '#222', ends: G_ends, ticks: G_ticks, line: G_line, tops: G_tops, hits: G_hits },
  { name: 'H) GY',  box: [884, 1272, 1618, 1562], xr: [142, 1543], yr: [-0.18, 5.11], lab: [911, 1630], dash: '#4f9be0', ends: H_ends, ticks: H_ticks, line: H_line, tops: H_tops, hits: H_hits },
  { name: 'I) ASI', box: [70, 1694, 813, 1984],  xr: [133, 1552], yr: [-0.21, 5.59], lab: [101, 2043], dash: '#222', ends: I_ends, ticks: I_ticks, line: I_line, tops: I_tops, hits: I_hits },
  { name: 'J) EH',  box: [884, 1694, 1627, 1984], xr: [142, 1560], yr: [-0.21, 5.31], lab: [911, 2041], dash: '#222', ends: J_ends, ticks: J_ticks, line: J_line, tops: J_tops, hits: J_hits },
  { name: 'K) EPO', box: [72, 2121, 815, 2411],  xr: [138, 1555], yr: [-0.18, 5.11], lab: [106, 2466], dash: '#222', ends: K_ends, ticks: K_ticks, line: K_line, tops: K_tops, hits: K_hits }
];

const LEFT = 40, BOTTOM = 40;

// frame round the plot and the y tick labels, which R writes turned 90 degrees
const framePlugin = {
  id: 'frame',
  afterDraw(chart) {
    const a = chart.chartArea, c = chart.ctx, y = chart.scales.y;
    c.save();
    c.strokeStyle = '#4a4a4a';
    c.lineWidth = 2;
    c.strokeRect(a.left, a.top, a.right - a.left, a.bottom - a.top);
    c.fillStyle = '#222';
    c.font = '15px "Liberation Sans", Arial, sans-serif';
    c.textAlign = 'center';
    c.textBaseline = 'middle';
    y.ticks.forEach(t => {
      if (t.value < 1) return;
      c.save();
      c.translate(a.left - 20, y.getPixelForValue(t.value));
      c.rotate(-Math.PI / 2);
      c.fillText(String(t.value), 0, 0);
      c.restore();
    });
    c.restore();
  }
};

// height of the solid part of a chromosome at position x
function topAt(pts, x) {
  for (let j = 1; j < pts.length; j++) {
    if (x <= pts[j].x) {
      const k = (x - pts[j - 1].x) / (pts[j].x - pts[j - 1].x || 1);
      return pts[j - 1].y + k * (pts[j].y - pts[j - 1].y);
    }
  }
  return 0;
}

function chromDatasets(p) {
  const sets = [];
  p.tops.forEach((tops, i) => {
    const a = p.ends[i], b = p.ends[i + 1], step = (b - a) / tops.length;
    const pts = tops.map((v, j) => ({ x: a + (j + 0.5) * step, y: v }));
    pts.unshift({ x: a - 2, y: tops[0] });
    pts.push({ x: b, y: tops[tops.length - 1] });
    const col = chrColors[i];
    sets.push({
      data: pts,
      showLine: true,
      fill: { value: -0.09 },
      backgroundColor: col,
      borderColor: col,
      borderWidth: 0,
      pointRadius: 5,
      pointBackgroundColor: col,
      pointBorderWidth: 0,
      order: 40 - 2 * i
    });
    // low isolated points come out as small rings in the figure
    const isRing = h => h.y < 2.7 && h.y > topAt(pts, h.x) + 0.1;
    sets.push({
      data: p.hits[i].map(h => ({ x: h[0], y: h[1] })),
      showLine: false,
      pointRadius: ctx => isRing(ctx.raw) ? 4 : 5.5,
      pointBackgroundColor: ctx => isRing(ctx.raw) ? '#fff' : col,
      pointBorderColor: col,
      pointBorderWidth: ctx => isRing(ctx.raw) ? 2.5 : 0,
      order: 39 - 2 * i
    });
  });
  sets.push({
    data: p.line.map(h => ({ x: h[0], y: h[1] })),
    showLine: true,
    borderColor: '#F0303E',
    borderWidth: 2.5,
    pointRadius: 0,
    order: 0
  });
  return sets;
}

panels.forEach(p => {
  const [l, t, r, b] = p.box;
  const cv = document.createElement('canvas');
  cv.style.left = (l - LEFT) + 'px';
  cv.style.top = (t - 2) + 'px';
  cv.width = r - l + LEFT + 2;
  cv.height = b - t + 2 + BOTTOM;
  document.body.appendChild(cv);

  new Chart(cv.getContext('2d'), {
    type: 'scatter',
    data: { datasets: chromDatasets(p) },
    plugins: [framePlugin],
    options: {
      responsive: false,
      animation: false,
      devicePixelRatio: 1,
      layout: { autoPadding: false, padding: { top: 2, right: 2, left: 0, bottom: 0 } },
      plugins: { legend: { display: false }, tooltip: { enabled: false } },
      scales: {
        x: {
          type: 'linear',
          min: p.xr[0],
          max: p.xr[1],
          grid: { display: false, drawTicks: false },
          border: { display: false },
          afterFit: s => { s.height = BOTTOM; },
          afterBuildTicks: s => { s.ticks = p.ticks.map(v => ({ value: v })); },
          ticks: {
            autoSkip: false,
            maxRotation: 0,
            padding: 9,
            color: '#222',
            font: { family: '"Liberation Sans Narrow", "Liberation Sans", Arial', size: 17 },
            callback: (v, i) => chrLabels[i]
          }
        },
        y: {
          type: 'linear',
          min: p.yr[0],
          max: p.yr[1],
          grid: { display: false, drawTicks: false },
          border: { display: false },
          afterFit: s => { s.width = LEFT; },
          afterBuildTicks: s => {
            const vals = [1, 2, 3, 4, 5, 6].filter(v => v <= p.yr[1]);
            s.ticks = vals.map(v => ({ value: v }));
          },
          ticks: { display: false }
        }
      }
    }
  });

  const yt = document.createElement('div');
  yt.className = 'ytitle';
  yt.style.left = (l - 50) + 'px';
  yt.style.top = ((t + b) / 2) + 'px';
  yt.innerHTML = '<span style="color:' + p.dash + '">\u2212</span>log<sub>10</sub>(<i>p</i>)';
  document.body.appendChild(yt);

  const lb = document.createElement('div');
  lb.className = 'plabel';
  lb.style.left = p.lab[0] + 'px';
  lb.style.top = p.lab[1] + 'px';
  lb.textContent = p.name;
  document.body.appendChild(lb);
});
</script>
</body>
</html>
